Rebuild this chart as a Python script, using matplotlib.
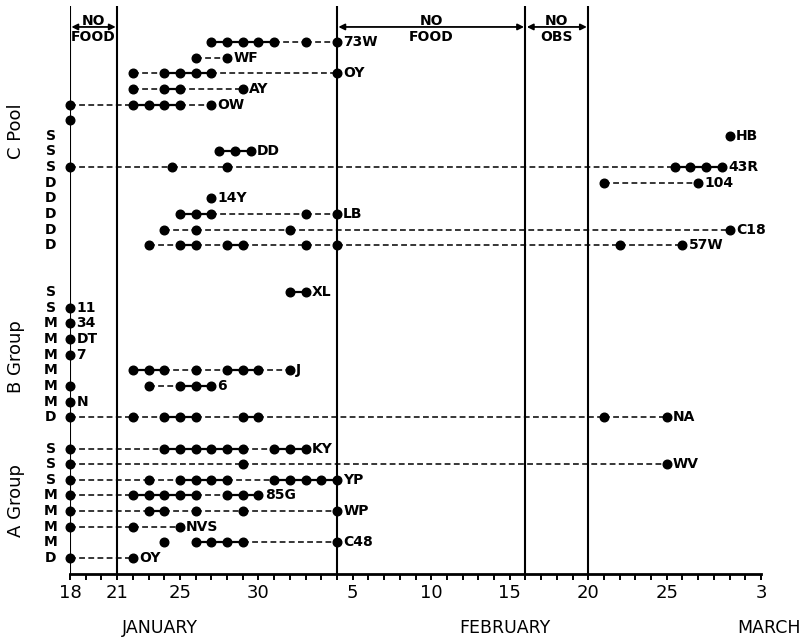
import matplotlib
matplotlib.use('Agg')
import matplotlib.pyplot as plt

# days counted from January 18 (0) to March 3 (44)
tick_days = list(range(0, 45))
label_days = [0, 3, 7, 12, 18, 23, 28, 33, 38, 44]
label_text = ['18', '21', '25', '30', '5', '10', '15', '20', '25', '3']
months = ['JANUARY', 'FEBRUARY', 'MARCH']

# vertical markers and the periods between them
mark_days = [0, 3, 17, 29, 33]
period_start = [0, 17, 29]
period_end = [3, 29, 33]
period_top = ['NO', 'NO', 'NO']
period_bottom = ['FOOD', 'FOOD', 'OBS']

# C Pool, top to bottom (None = break, no connecting line)
c_names = ['73W', 'WF', 'OY', 'AY', 'OW', '', 'HB', 'DD', '43R', '104', '14Y', 'LB', 'C18', '57W']
c_class = ['', '', '', '', '', '', 'S', 'S', 'S', 'D', 'D', 'D', 'D', 'D']
c_days = [
    [9, 10, 11, 12, 13, 15, 17],
    [8, 10],
    [4, 6, 7, 8, 9, 17],
    [4, 6, 7, 11],
    [0, 4, 5, 6, 7, 9],
    [0],
    [42],
    [9.5, 10.5, 11.5],
    [0, 6.5, 10, 38.5, 39.5, 40.5, 41.5],
    [34, 40],
    [9],
    [7, 8, 9, 15, 17],
    [6, 8, 14, 42],
    [5, 7, 8, 10, 11, 15, 17, 35, 39],
]

# B Group
b_names = ['XL', '11', '34', 'DT', '7', 'J', '6', 'N', 'NA']
b_class = ['S', 'S', 'M', 'M', 'M', 'M', 'M', 'M', 'D']
b_days = [
    [14, 15],
    [0],
    [0],
    [0],
    [0],
    [4, 5, 6, 8, 10, 11, 12, 14],
    [0, None, 5, 7, 8, 9],
    [0],
    [0, 4, 6, 7, 8, 11, 12, 34, 38],
]

# A Group
a_names = ['KY', 'WV', 'YP', '85G', 'WP', 'NVS', 'C48', 'OY']
a_class = ['S', 'S', 'S', 'M', 'M', 'M', 'M', 'D']
a_days = [
    [0, 6, 7, 8, 9, 10, 11, 13, 14, 15],
    [0, 11, 38],
    [0, 5, 7, 8, 9, 10, 13, 14, 15, 16, 17],
    [0, 4, 5, 6, 7, 8, 10, 11, 12],
    [0, 5, 6, 8, 11, 17],
    [0, 4, 7],
    [6, None, 8, 9, 10, 11, 17],
    [0, 4],
]

groups = ['C Pool', 'B Group', 'A Group']


fig = plt.figure(figsize=(8.04, 6.41), dpi=100)
ax = fig.add_axes([70 / 804, 67 / 641, 691 / 804, 568 / 641])
ax.set_xlim(0, 44)
ax.set_ylim(-1.02, 35.3)


def draw_row(y, days, name, cls):
    runs, cur = [], []
    for d in days:
        if d is None:
            runs.append(cur)
            cur = []
        else:
            cur.append(d)
    runs.append(cur)
    for run in runs:
        for a, b in zip(run[:-1], run[1:]):
            if b - a <= 1.01:
                ax.plot([a, b], [y, y], color='k', lw=1.6, solid_capstyle='butt')
            else:
                ax.plot([a, b], [y, y], color='k', lw=1.1, ls=(0, (3.8, 2.2)))
        ax.plot(run, [y] * len(run), 'o', color='k', ms=6.2, clip_on=False, zorder=3)
    last = max(d for d in days if d is not None)
    if name:
        ax.annotate(name, (last, y), xytext=(4.5, 0), textcoords='offset points',
                    va='center', ha='left', fontsize=10, fontweight='bold')
    if cls:
        ax.text(-1.22, y, cls, va='center', ha='center', fontsize=10,
                fontweight='bold', clip_on=False)


for x in mark_days:
    ax.axvline(x, color='k', lw=1.5, zorder=1)

row_sets = [(c_names, c_class, c_days, 33), (b_names, b_class, b_days, 17),
            (a_names, a_class, a_days, 7)]
for names, classes, days, top in row_sets:
    for i in range(len(names)):
        draw_row(top - i, days[i], names[i], classes[i])

# group labels on the left
for g, yc in zip(groups, [27.3, 12.9, 3.65]):
    ax.text(-3.45, yc, g, rotation=90, va='center', ha='center',
            fontsize=13, clip_on=False)

# period annotations at the top
for s, e, t1, t2 in zip(period_start, period_end, period_top, period_bottom):
    ax.annotate('', xy=(e, 33.96), xytext=(s, 33.96),
                arrowprops=dict(arrowstyle='<|-|>', color='k', lw=1.3,
                                mutation_scale=9, shrinkA=1, shrinkB=1))
    xm = (s + e) / 2
    ax.text(xm, 34.36, t1, ha='center', va='center', fontsize=10, fontweight='bold')
    ax.text(xm, 33.3, t2, ha='center', va='center', fontsize=10, fontweight='bold')

for sp in ['left', 'right', 'top']:
    ax.spines[sp].set_visible(False)
ax.spines['bottom'].set_linewidth(2)
ax.set_yticks([])
ax.set_xticks(tick_days)
ax.set_xticklabels([label_text[label_days.index(d)] if d in label_days else ''
                    for d in tick_days], fontsize=13)
ax.tick_params(axis='x', direction='out', length=4.5, width=1.4, pad=3)

for m, xf in zip(months, [160, 505, 769]):
    fig.text(xf / 804, 1 - 628 / 641, m, ha='center', va='center', fontsize=12.5)

fig.savefig('out.png', dpi=100)
